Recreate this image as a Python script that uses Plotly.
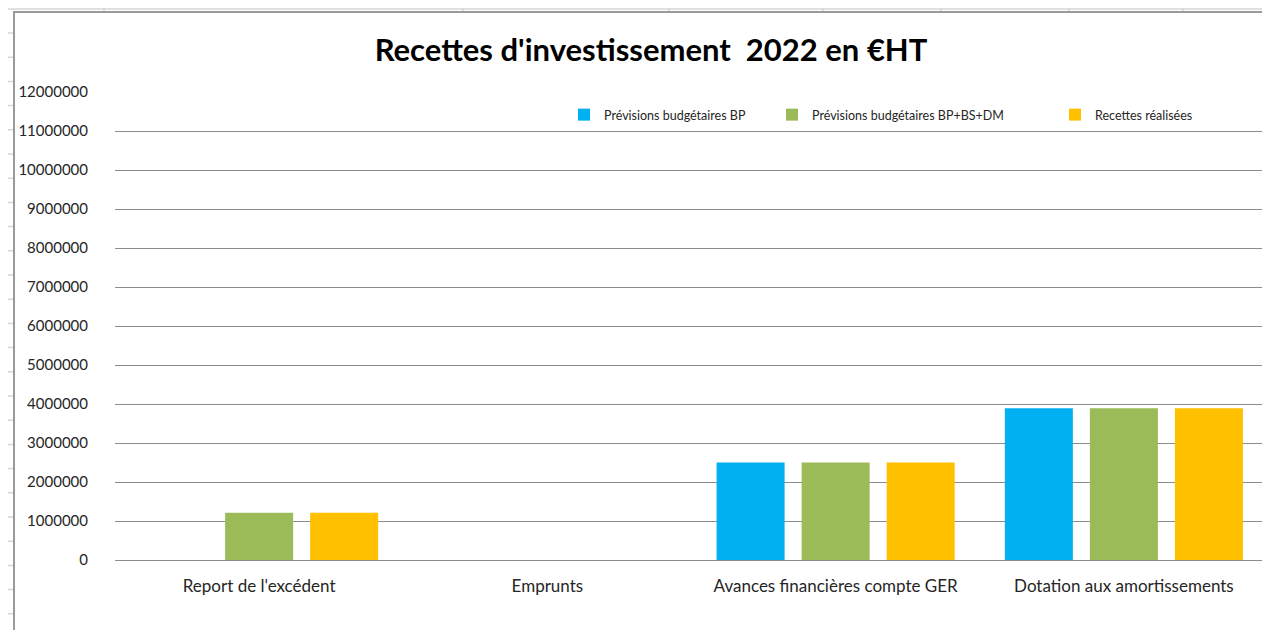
import plotly.graph_objects as go

categories = ["Report de l'excédent", "Emprunts", "Avances financières compte GER", "Dotation aux amortissements"]
series_names = ["Prévisions budgétaires BP", "Prévisions budgétaires BP+BS+DM", "Recettes réalisées"]
prev_bp = [0, 0, 2500000, 3890000]
prev_bp_bs_dm = [1210000, 0, 2500000, 3890000]
recettes_realisees = [1210000, 0, 2500000, 3890000]
y_ticks = list(range(0, 12000001, 1000000))
colors = ["#00B0F0", "#9BBB59", "#FFC000"]

# the page body has an 8px margin: figure is sized and placed to compensate
OFF = 8
W, H = 1270 - OFF, 630 - OFF
FONT = "Lato"


def px(x):
    return (x - OFF) / W


def py(y):
    return 1 - (y - OFF) / H


legend_ids = ["legend", "legend2", "legend3"]
legend_left = [564, 772, 1055]

fig = go.Figure()
for name, vals, c, lid in zip(series_names, [prev_bp, prev_bp_bs_dm, recettes_realisees], colors, legend_ids):
    fig.add_trace(go.Bar(x=categories, y=vals, name=name, legend=lid,
                         marker=dict(color=c, line=dict(width=0))))

shapes = []
sheet_grid = "#d6d6d6"
# spreadsheet background grid: top row
shapes.append(dict(type="line", xref="paper", yref="paper", x0=-0.05, x1=1.05, y0=py(9), y1=py(9),
                   line=dict(color=sheet_grid, width=1.5), layer="below"))
for xv in [104, 463, 669, 823, 941, 1069, 1183]:
    shapes.append(dict(type="line", xref="paper", yref="paper", x0=px(xv), x1=px(xv), y0=1.05, y1=py(11),
                       line=dict(color=sheet_grid, width=1.5), layer="below"))
# left column
yv = 33
while yv < 640:
    shapes.append(dict(type="line", xref="paper", yref="paper", x0=-0.05, x1=px(13), y0=py(yv), y1=py(yv),
                       line=dict(color=sheet_grid, width=1.5), layer="below"))
    yv += 24.2
# chart area (white) with border
shapes.append(dict(type="rect", xref="paper", yref="paper", x0=px(14), x1=1.05, y0=-0.05, y1=py(12),
                   line=dict(color="#9a9a9a", width=2), fillcolor="white", layer="below"))

legend_style = dict(orientation="h", y=py(115), xanchor="left", yanchor="middle",
                    font=dict(family=FONT, size=12.5, color="#262626"), bgcolor="rgba(0,0,0,0)",
                    itemwidth=30)

fig.update_layout(
    width=W, height=H,
    margin=dict(l=0, r=0, t=0, b=0),
    paper_bgcolor="white", plot_bgcolor="rgba(0,0,0,0)",
    shapes=shapes,
    font=dict(family=FONT, color="#262626"),
    title=dict(text="<b>Recettes d'investissement  2022 en €HT</b>", xref="paper", yref="paper",
               x=px(651), y=py(50), xanchor="center", yanchor="middle",
               font=dict(family=FONT, size=31, color="#000000")),
    barmode="group", bargap=0.115, bargroupgap=0.2,
    showlegend=True,
    xaxis=dict(domain=[px(115), px(1268)], showgrid=False, showline=False, ticks="",
               tickfont=dict(family=FONT, size=17, color="#262626"), ticklabelstandoff=14,
               automargin=False, fixedrange=True),
    yaxis=dict(domain=[py(560), py(92)], range=[0, 12000000], tickvals=y_ticks,
               ticktext=[str(v) for v in y_ticks], showgrid=True, gridcolor="#8c8c8c", gridwidth=1,
               zeroline=True, zerolinecolor="#8c8c8c", zerolinewidth=1, showline=False, ticks="",
               tickfont=dict(family=FONT, size=15, color="#262626"), ticklabelstandoff=26,
               automargin=False, fixedrange=True),
)
for lid, lx in zip(legend_ids, legend_left):
    fig.update_layout({lid: dict(legend_style, x=px(lx))})

fig.write_html("out.html")
